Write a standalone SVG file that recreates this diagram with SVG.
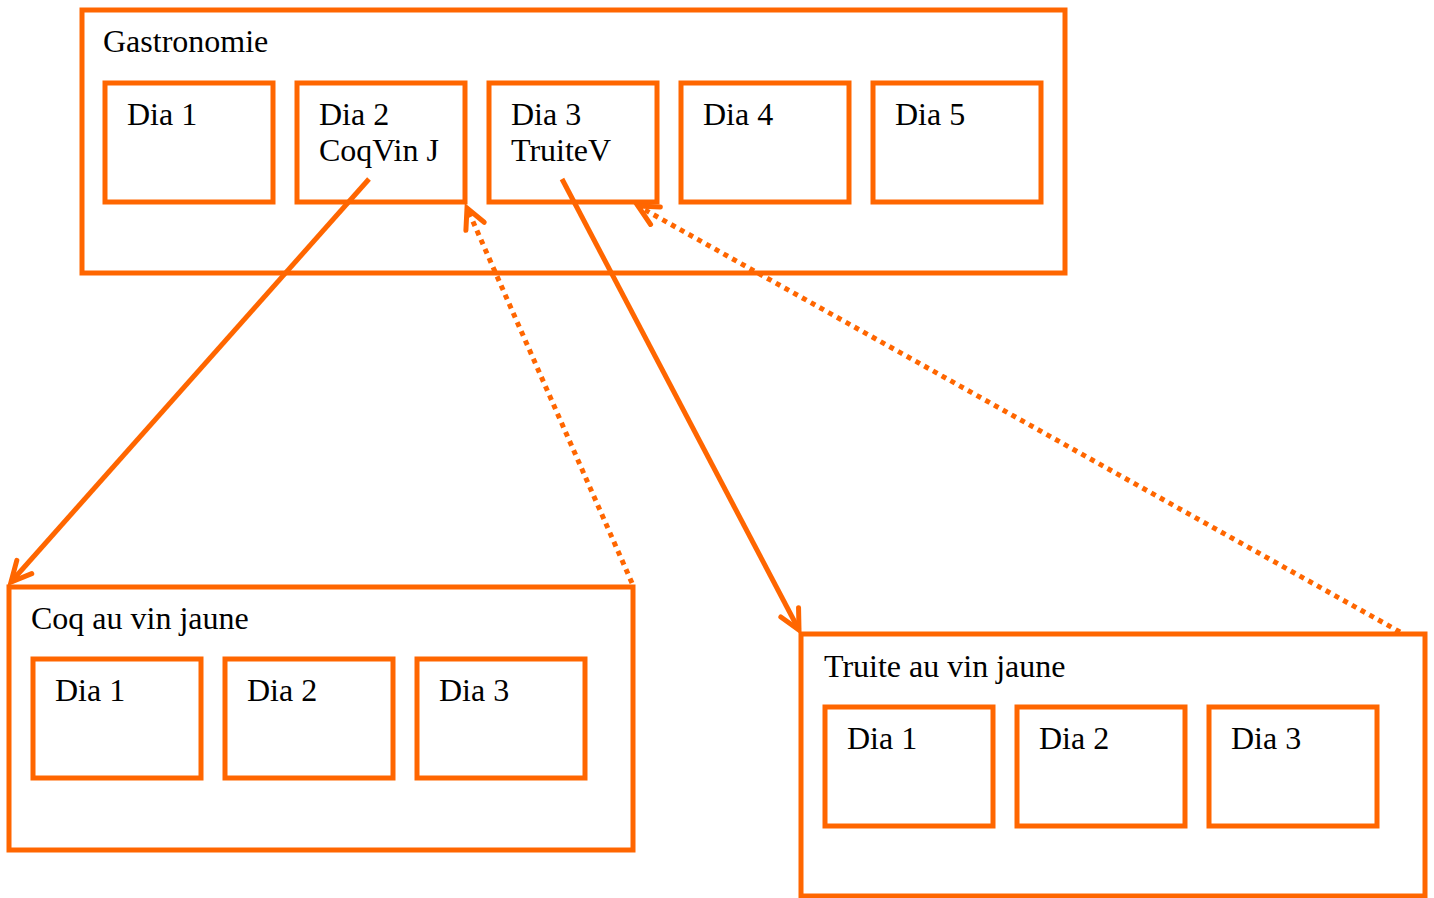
<svg xmlns="http://www.w3.org/2000/svg" width="1434" height="898" viewBox="0 0 1434 898">
<style>
.box{fill:none;stroke:#FF6600;stroke-width:5}
.t{font-family:"Liberation Serif","Times New Roman",serif;font-size:32px;fill:#000}
.c{fill:none;stroke:#FF6600;stroke-width:5}
.d{stroke-dasharray:5,5}
</style>
<defs>
<marker id="ah" markerUnits="userSpaceOnUse" markerWidth="30" markerHeight="30" refX="24" refY="12" orient="auto" viewBox="0 0 30 24">
<path d="M4,2 L24,12 L4,22" fill="none" stroke="#FF6600" stroke-width="5" stroke-linecap="round" stroke-linejoin="miter"/>
</marker>
</defs>
<g id="gastronomie">
<rect class="box" x="82" y="10" width="983" height="263"/>
<text class="t" x="103" y="52">Gastronomie</text>
</g>
<g id="g-dia1"><rect class="box" x="105" y="83" width="168" height="119"/><text class="t" x="127" y="125">Dia 1</text></g>
<g id="g-dia2"><rect class="box" x="297" y="83" width="168" height="119"/><text class="t" x="319" y="125">Dia 2</text><text class="t" x="319" y="161">CoqVin J</text></g>
<g id="g-dia3"><rect class="box" x="489" y="83" width="168" height="119"/><text class="t" x="511" y="125">Dia 3</text><text class="t" x="511" y="161">TruiteV</text></g>
<g id="g-dia4"><rect class="box" x="681" y="83" width="168" height="119"/><text class="t" x="703" y="125">Dia 4</text></g>
<g id="g-dia5"><rect class="box" x="873" y="83" width="168" height="119"/><text class="t" x="895" y="125">Dia 5</text></g>

<g id="coq">
<rect class="box" x="9" y="587" width="624" height="263"/>
<text class="t" x="31" y="629">Coq au vin jaune</text>
</g>
<g id="c-dia1"><rect class="box" x="33" y="659" width="168" height="119"/><text class="t" x="55" y="701">Dia 1</text></g>
<g id="c-dia2"><rect class="box" x="225" y="659" width="168" height="119"/><text class="t" x="247" y="701">Dia 2</text></g>
<g id="c-dia3"><rect class="box" x="417" y="659" width="168" height="119"/><text class="t" x="439" y="701">Dia 3</text></g>

<g id="truite">
<rect class="box" x="801" y="634" width="624" height="262"/>
<text class="t" x="824" y="677">Truite au vin jaune</text>
</g>
<g id="t-dia1"><rect class="box" x="825" y="707" width="168" height="119"/><text class="t" x="847" y="749">Dia 1</text></g>
<g id="t-dia2"><rect class="box" x="1017" y="707" width="168" height="119"/><text class="t" x="1039" y="749">Dia 2</text></g>
<g id="t-dia3"><rect class="box" x="1209" y="707" width="168" height="119"/><text class="t" x="1231" y="749">Dia 3</text></g>

<g id="connectors">
<line class="c" x1="369" y1="179" x2="11" y2="582" marker-end="url(#ah)"/>
<line class="c d" x1="632" y1="583" x2="467" y2="208" marker-end="url(#ah)"/>
<line class="c" x1="562" y1="179" x2="799" y2="630" marker-end="url(#ah)"/>
<line class="c d" x1="1400" y1="632" x2="638" y2="206" marker-end="url(#ah)"/>
</g>
</svg>
